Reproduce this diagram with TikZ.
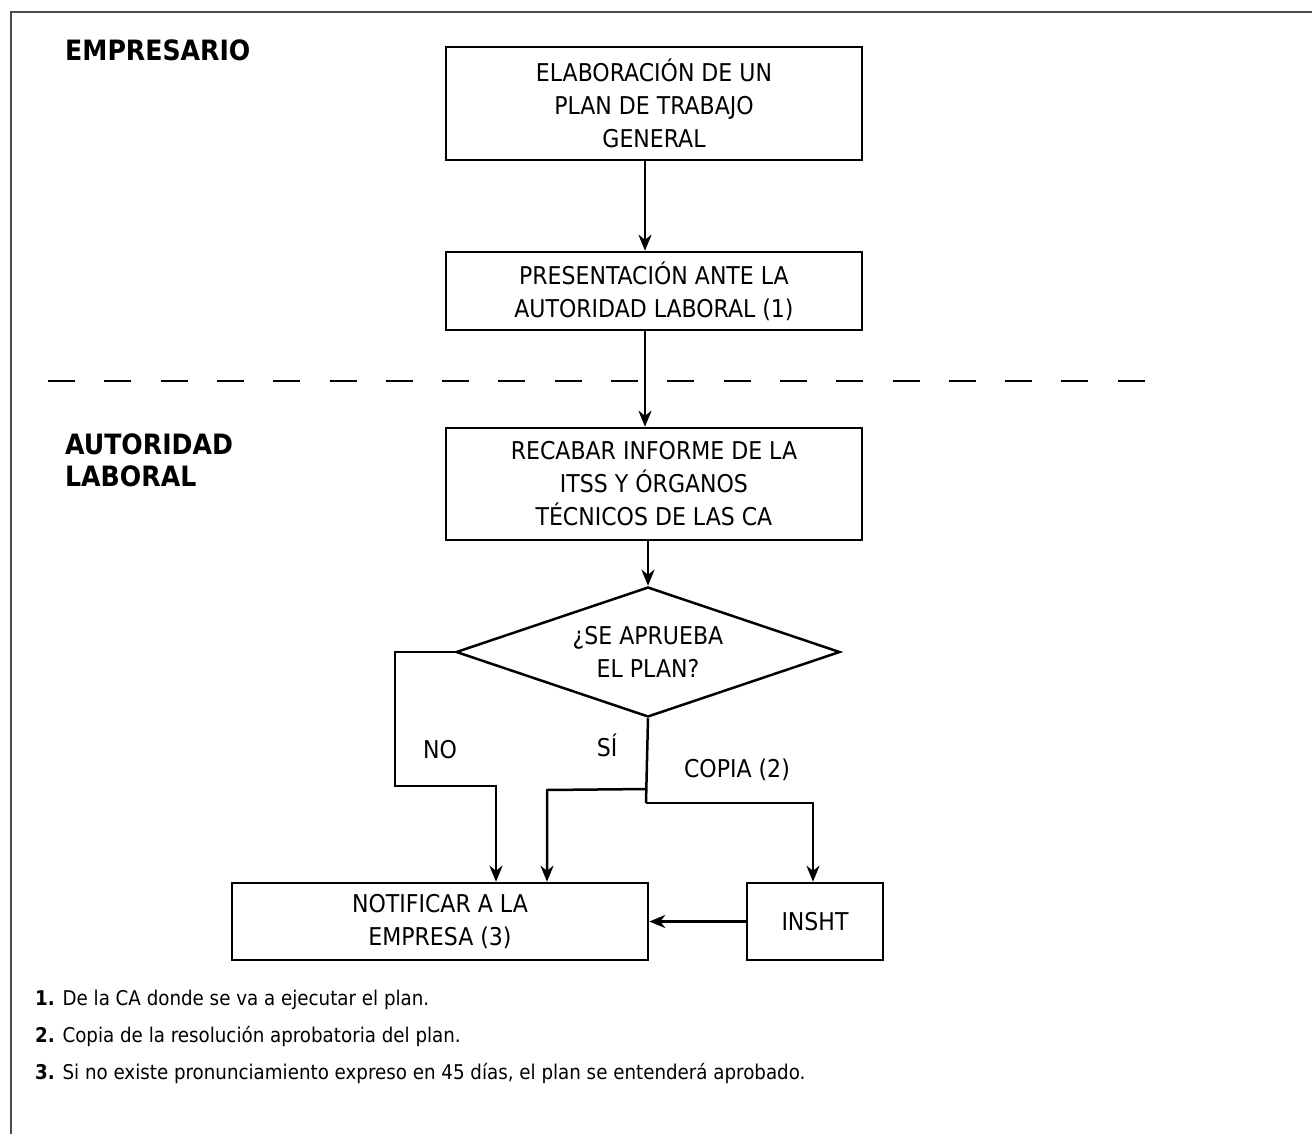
\documentclass[tikz,border=0pt]{standalone}
\usepackage{fontspec}
\setmainfont{DejaVu Sans Condensed}
\usetikzlibrary{shapes.geometric,arrows.meta}
\begin{document}
\begin{tikzpicture}[x=1pt,y=-1pt,
  box/.style={draw,line width=2.5pt,align=center,inner sep=0pt,font=\fontsize{24.5}{33}\selectfont},
  lbl/.style={font=\fontsize{24.5}{30}\selectfont,inner sep=0pt},
  head/.style={font=\bfseries\fontsize{28}{33}\selectfont,inner sep=0pt,anchor=west,align=left},
  note/.style={font=\fontsize{20.3}{24}\selectfont,inner sep=0pt,anchor=west},
  arr/.style={line width=2.5pt,-{Stealth[length=16pt,width=13pt,inset=5pt]}},
  ln/.style={line width=2.5pt}]
\useasboundingbox (0,0) rectangle (1312,1133);
\draw[line width=2.5pt,color=black!70] (11,1140) -- (11,12) -- (1320,12);
% headings
\node[head] (hemp) at (65,50) {EMPRESARIO};
\node[head,font=\bfseries\fontsize{28}{32}\selectfont] (haut) at (65,460) {AUTORIDAD\\LABORAL};
% boxes
\node[box,minimum width=416pt,minimum height=113pt] (b1) at (654,103.5) {ELABORACIÓN DE UN\\PLAN DE TRABAJO\\GENERAL};
\node[box,minimum width=416pt,minimum height=78pt] (b2) at (654,291) {PRESENTACIÓN ANTE LA\\AUTORIDAD LABORAL (1)};
\node[box,minimum width=416pt,minimum height=112pt] (b3) at (654,484) {RECABAR INFORME DE LA\\ITSS Y ÓRGANOS\\TÉCNICOS DE LAS CA};
\node[box,diamond,aspect=2.95,minimum width=384pt,minimum height=130pt] (d) at (648,652) {\vphantom{Ag}};
\node[lbl,align=center,font=\fontsize{24.5}{33}\selectfont] (dt) at (648,652) {¿SE APRUEBA\\EL PLAN?};
\node[box,minimum width=416pt,minimum height=77pt] (b4) at (440,921.5) {NOTIFICAR A LA\\EMPRESA (3)};
\node[box,minimum width=136pt,minimum height=77pt] (b5) at (815,921.5) {INSHT};
% dashed separator
\draw[ln,dash pattern=on 27pt off 29.3pt] (48,381) -- (1145,381);
% connectors
\draw[arr] ([xshift=-9pt]b1.south) -- ([xshift=-9pt]b2.north);
\draw[arr] ([xshift=-9pt]b2.south) -- ([xshift=-9pt]b3.north);
\draw[arr] ([xshift=-6pt]b3.south) -- (d.north);
\coordinate (nol) at (395,652);
\coordinate (sij) at (646,789);
\coordinate (cpj) at (646,803);
\draw[arr] (d.west) -- (nol) |- (496,786) -- ([xshift=56pt]b4.north);
\draw[ln] (d.south) -- (cpj);
\draw[arr] (sij) -- (547,790) -- ([xshift=107pt]b4.north);
\draw[arr] (cpj) -| ([xshift=-2pt]b5.north);
\draw[arr] (b5.west) -- (b4.east);
% labels
\node[lbl] (lno) at (440,750) {NO};
\node[lbl] (lsi) at (607,745) {SÍ};
\node[lbl] (lcp) at (737,770) {COPIA (2)};
% notes
\node[note] (n1) at (35,1000) {\textbf{1.} De la CA donde se va a ejecutar el plan.};
\node[note] (n2) at (35,1036) {\textbf{2.} Copia de la resolución aprobatoria del plan.};
\node[note] (n3) at (35,1073) {\textbf{3.} Si no existe pronunciamiento expreso en 45 días, el plan se entenderá aprobado.};
\end{tikzpicture}
\end{document}
